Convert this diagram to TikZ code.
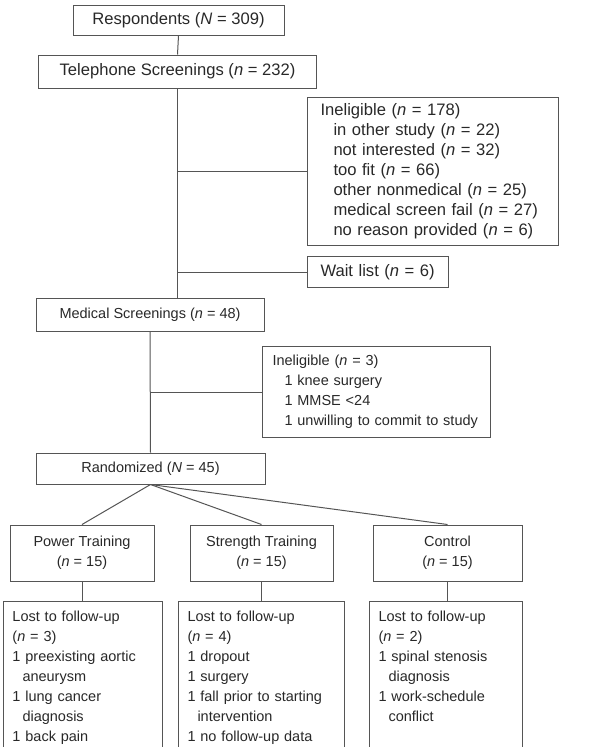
\documentclass[tikz,border=0pt]{standalone}
\usepackage{fontspec}
\setmainfont{Liberation Sans}
\usepackage{tikz}

\definecolor{boxline}{RGB}{85,85,85}
\definecolor{boxtext}{RGB}{40,40,40}

\begin{document}
\begin{tikzpicture}[x=1pt,y=-1pt,
	every node/.style={text=boxtext,font=\fontsize{14.5}{20}\selectfont},
	big/.style={font=\fontsize{16.6}{20}\selectfont},
	box/.style={draw=boxline,line width=1pt,inner sep=0pt,align=center},
	listbox/.style={box,align=left,anchor=north west,inner ysep=0pt},
	lostbox/.style={box,align=left,anchor=north west,inner xsep=9pt,inner ysep=9pt,
		text width=#1,text height=11pt,text depth=140pt},
	link/.style={draw=boxline,line width=1pt}]
	\clip (0,0) rectangle (614,747);

	% main column
	\node[box,big,minimum width=211pt,minimum height=30pt] (resp) at (178.5,20) {Respondents (\textit{N} = 309)};
	\node[box,big,minimum width=278pt,minimum height=33pt] (tel) at (177.5,71.5) {Telephone Screenings (\textit{n} = 232)};
	\node[box,minimum width=228pt,minimum height=33pt] (med) at (150,314.5) {Medical Screenings (\textit{n} = 48)};
	\node[box,minimum width=229pt,minimum height=31pt] (rand) at (150.5,468.5) {Randomized (\textit{N} = 45)};

	% exclusions
	\node[listbox,big,inner xsep=13pt,text width=225pt,minimum height=148pt] (inel1) at (307,97) {Ineligible (\textit{n} = 178)\\
		\hspace*{13pt}in other study (\textit{n} = 22)\\
		\hspace*{13pt}not interested (\textit{n} = 32)\\
		\hspace*{13pt}too fit (\textit{n} = 66)\\
		\hspace*{13pt}other nonmedical (\textit{n} = 25)\\
		\hspace*{13pt}medical screen fail (\textit{n} = 27)\\
		\hspace*{13pt}no reason provided (\textit{n} = 6)};
	\node[listbox,big,inner xsep=13pt,text width=115pt,minimum height=31pt] (wait) at (307,256) {Wait list (\textit{n} = 6)};
	\node[listbox,inner xsep=10pt,text width=208pt,minimum height=91pt] (inel2) at (262,346) {Ineligible (\textit{n} = 3)\\
		\hspace*{12pt}1 knee surgery\\
		\hspace*{12pt}1 MMSE <24\\
		\hspace*{12pt}1 unwilling to commit to study};

	% groups
	\node[box,minimum width=144pt,minimum height=56pt] (power) at (82,553) {Power Training\\(\textit{n} = 15)};
	\node[box,minimum width=143pt,minimum height=56pt] (strength) at (261.5,553) {Strength Training\\(\textit{n} = 15)};
	\node[box,minimum width=149pt,minimum height=56pt] (control) at (447.5,553) {Control\\(\textit{n} = 15)};

	\node[lostbox=141pt] (powerlost) at (3,601) {Lost to follow-up\\(\textit{n} = 3)\\
		1 preexisting aortic\\\hspace*{10pt}aneurysm\\1 lung cancer\\\hspace*{10pt}diagnosis\\1 back pain};
	\node[lostbox=148pt] (strengthlost) at (178,601) {Lost to follow-up\\(\textit{n} = 4)\\
		1 dropout\\1 surgery\\1 fall prior to starting\\\hspace*{10pt}intervention\\1 no follow-up data};
	\node[lostbox=135pt] (controllost) at (369,601) {Lost to follow-up\\(\textit{n} = 2)\\
		1 spinal stenosis\\\hspace*{10pt}diagnosis\\1 work-schedule\\\hspace*{10pt}conflict};

	% connectors
	\draw[link] (resp.south) -- (tel.north);
	\draw[link] (tel.south) -- (tel.south |- med.north);
	\draw[link] (tel.south |- inel1.west) -- (inel1.west);
	\draw[link] (tel.south |- wait.west) -- (wait.west);
	\draw[link] (med.south) -- (rand.north);
	\draw[link] (med.south |- inel2.west) -- (inel2.west);
	\draw[link] (rand.south) -- (power.north);
	\draw[link] (rand.south) -- (strength.north);
	\draw[link] (rand.south) -- (control.north);
	\draw[link] (power.south) -- (power.south |- powerlost.north);
	\draw[link] (strength.south) -- (strength.south |- strengthlost.north);
	\draw[link] (control.south) -- (control.south |- controllost.north);
\end{tikzpicture}
\end{document}
